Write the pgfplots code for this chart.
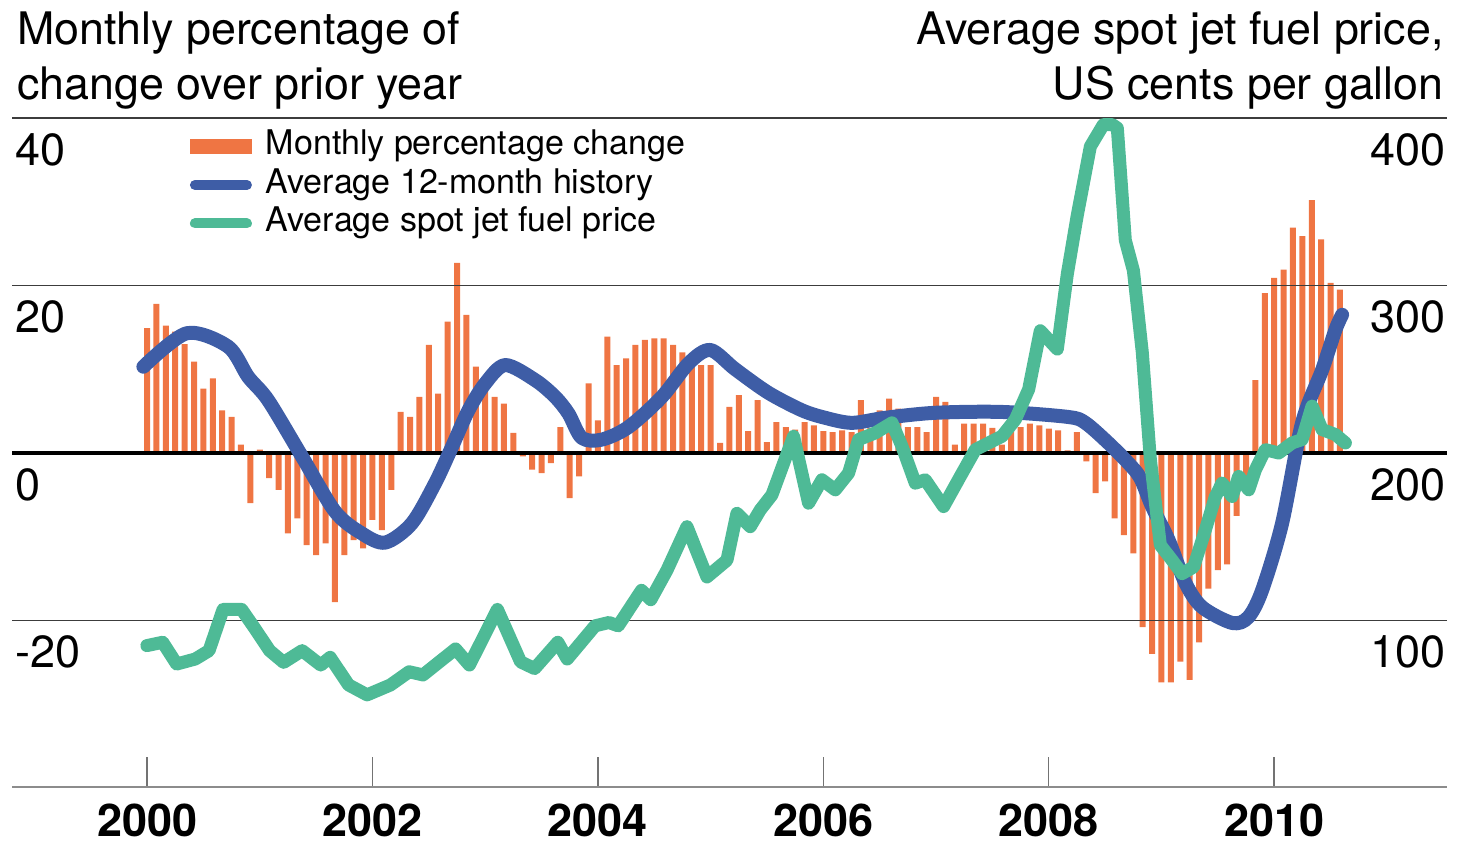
\documentclass[border=0pt]{standalone}
\usepackage{fontspec}
\setmainfont{TeX Gyre Heros}
\usepackage{pgfplots}
\pgfplotsset{compat=1.18}
\usepackage{pgfplotstable}

\definecolor{barorange}{RGB}{239,117,67}
\definecolor{lineblue}{RGB}{62,93,166}
\definecolor{linegreen}{RGB}{78,186,150}
\definecolor{gridc}{RGB}{60,60,60}

% month index: 0 = Jan 2000
\pgfplotstableread{
m v
0 14.9
1 17.8
2 15.2
3 14.5
4 13.0
5 10.9
6 7.7
7 8.9
8 5.1
9 4.3
10 1.0
11 -6.0
12 0.4
13 -3.0
14 -4.4
15 -9.6
16 -7.8
17 -11.0
18 -12.2
19 -10.8
20 -17.8
21 -12.2
22 -10.4
23 -11.4
24 -8.0
25 -9.2
26 -4.4
27 4.9
28 4.3
29 6.7
30 12.9
31 7.1
32 15.7
33 22.7
34 16.5
35 10.3
36 8.5
37 6.7
38 5.9
39 2.4
40 -0.4
41 -2.0
42 -2.4
43 -1.2
44 3.1
45 -5.4
46 -2.8
47 8.3
48 3.9
49 13.9
50 10.5
51 11.3
52 12.9
53 13.5
54 13.7
55 13.7
56 12.9
57 12.0
58 11.5
59 10.5
60 10.5
61 1.2
62 5.5
63 6.9
64 2.6
65 6.3
66 1.3
67 3.7
68 3.1
69 2.8
70 3.7
71 3.3
72 2.6
73 2.5
74 2.7
75 2.5
76 6.3
77 3.0
78 5.1
79 6.5
80 5.3
81 3.1
82 3.1
83 2.5
84 6.7
85 6.1
86 1.0
87 3.5
88 3.5
89 3.5
90 3.0
91 1.0
92 3.0
93 3.1
94 3.5
95 3.3
96 2.9
97 2.7
98 0.3
99 2.5
100 -1.0
101 -4.8
102 -3.4
103 -7.8
104 -9.8
105 -12.0
106 -20.8
107 -24.0
108 -27.4
109 -27.4
110 -24.9
111 -27.1
112 -22.6
113 -16.2
114 -14.0
115 -13.3
116 -7.5
117 -3.5
118 8.7
119 19.1
120 20.9
121 21.9
122 26.9
123 25.9
124 30.2
125 25.5
126 20.3
127 19.5
}\barsdata

\pgfplotstableread{
m v
-0.39 10.3
4.23 14.3
8.63 12.7
10.76 9.1
12.89 6.3
16.48 -0.4
20.02 -7.0
22.86 -9.6
25.35 -10.7
28.19 -8.4
30.67 -3.6
32.45 0.7
34.22 5.1
36.00 8.3
38.13 10.5
41.32 8.7
43.45 6.7
44.87 4.7
46.29 1.8
48.42 1.6
51.26 3.1
54.81 6.7
57.65 10.7
59.96 12.3
62.62 10.0
66.13 7.2
69.72 5.1
72.20 4.2
75.05 3.6
78.59 4.2
83.92 4.8
91.02 4.9
98.08 4.3
99.89 3.6
102.34 1.2
104.47 -1.2
105.75 -3.0
107.00 -6.4
108.76 -10.4
110.54 -15.5
112.32 -18.4
115.55 -20.3
117.25 -19.6
118.71 -16.4
120.84 -8.4
122.97 3.6
125.10 9.9
126.52 14.7
127.23 16.5
}\avgdata

\pgfplotstableread{
m c
-0.02 85
1.66 87
3.15 74
5.13 77
6.60 82
8.09 106.6
10.07 106.6
11.50 95
13.05 82
14.54 75
16.51 82
18.49 73.4
19.49 78
21.46 61.5
23.43 55.6
25.91 61.5
27.90 69.4
29.38 67.5
32.84 83
34.32 73.4
37.30 106.6
39.77 75.3
41.26 71.3
43.73 87
44.73 77
47.69 96.8
49.17 98.8
50.16 96.8
52.64 118
53.63 112.4
55.35 130
57.48 156
59.61 126
61.74 136
62.80 164
64.22 156
65.28 166
66.53 175
68.83 210
70.43 170
71.85 184
73.27 178
74.69 188
75.75 208
77.53 212
79.31 218
80.37 204
81.79 182
82.85 184
84.80 168
86.58 186
88.18 202
91.02 210
92.44 220
93.86 238
95.10 273
96.91 262
97.98 307
99.04 342
100.43 383
101.81 396
102.77 396
103.30 394
104.15 327
105.01 309
105.96 260
106.82 196
107.88 145
109.13 136
110.19 128
111.43 132
112.67 154
113.74 174
114.45 182
115.52 174
116.22 186
117.29 178
118.00 190
119.06 202
120.48 200
121.91 206
122.97 208
124.03 228
125.10 214
126.52 211
127.58 206
}\fueldata

\begin{document}
\begin{tikzpicture}
\path[use as bounding box] (0,0) rectangle (728.5pt,422.5pt);

% titles
\node[anchor=base west, inner sep=0pt, font=\fontsize{22.4}{27}\selectfont] at (8.5pt,400pt) {Monthly percentage of};
\node[anchor=base west, inner sep=0pt, font=\fontsize{22.4}{27}\selectfont] at (8.5pt,372.5pt) {change over prior year};
\node[anchor=base east, inner sep=0pt, font=\fontsize{22.4}{27}\selectfont] at (722pt,400pt) {Average spot jet fuel price,};
\node[anchor=base east, inner sep=0pt, font=\fontsize{22.4}{27}\selectfont] at (722pt,372.5pt) {US cents per gallon};

\begin{axis}[
  at={(6pt,28.5pt)}, anchor=south west,
  scale only axis, width=717.5pt, height=335pt,
  xmin=-14.38, xmax=138.4, ymin=-40, ymax=40,
  axis line style={draw=none},
  xtick={0,24,48,72,96,120},
  xticklabels={2000,2002,2004,2006,2008,2010},
  xtick pos=bottom,
  tick align=inside,
  major tick length=15.5pt,
  xtick style={black!55, line width=0.7pt},
  xticklabel style={anchor=north, inner sep=0pt, yshift=-8pt, font=\fontsize{22.5}{27}\selectfont\bfseries},
  ytick={-20,0,20,40},
  yticklabels={-20,0,20,40},
  ytick style={draw=none},
  yticklabel style={anchor=north west, inner sep=0pt, xshift=1.5pt, yshift=-7.5pt, font=\fontsize{22.5}{27}\selectfont},
  legend style={at={(0.124,0.9806)}, anchor=north west, draw=none, fill=none,
    inner sep=0pt, outer sep=0pt, row sep=3.75pt,
    font=\fontsize{17}{19}\selectfont,
    nodes={inner sep=0pt, text height=12pt, text depth=3.5pt}},
  legend cell align=left,
]
\addplot[ybar, bar width=3pt, fill=barorange, draw=none,
  legend image code/.code={\fill[barorange] (0pt,-3.75pt) rectangle (31pt,3.75pt); \path[draw=none,fill=none] (0pt,0pt) -- (38pt,0pt);}]
  table[x=m,y=v]{\barsdata};
\addlegendentry{Monthly percentage change}

\draw[gridc, line width=0.8pt] (rel axis cs:0,1) -- (rel axis cs:1,1);
\draw[gridc, line width=0.8pt] (rel axis cs:0,0.75) -- (rel axis cs:1,0.75);
\draw[gridc, line width=0.8pt] (rel axis cs:0,0.25) -- (rel axis cs:1,0.25);
\draw[black, line width=2pt] (rel axis cs:0,0.5) -- (rel axis cs:1,0.5);
\draw[black!45, line width=1.5pt] (rel axis cs:0,0) -- (rel axis cs:1,0);

\addplot[lineblue, line width=7pt, smooth, line cap=round, line join=round,
  legend image code/.code={\draw[lineblue, line width=5pt, line cap=round] (2.5pt,0pt) -- (28.5pt,0pt); \path[draw=none,fill=none] (0pt,0pt) -- (38pt,0pt);}]
  table[x=m,y=v]{\avgdata};
\addlegendentry{Average 12-month history}

\addlegendimage{legend image code/.code={\draw[linegreen, line width=5pt, line cap=round] (2.5pt,0pt) -- (28.5pt,0pt); \path[draw=none,fill=none] (0pt,0pt) -- (38pt,0pt);}}
\addlegendentry{Average spot jet fuel price}
\end{axis}

\begin{axis}[
  at={(6pt,28.5pt)}, anchor=south west,
  scale only axis, width=717.5pt, height=335pt,
  xmin=-14.38, xmax=138.4, ymin=0, ymax=400,
  axis line style={draw=none},
  xtick=\empty,
  ytick={100,200,300,400},
  yticklabels={100,200,300,400},
  ytick pos=right, yticklabel pos=right,
  ytick style={draw=none},
  yticklabel style={anchor=north east, inner sep=0pt, xshift=-0.5pt, yshift=-7.5pt, font=\fontsize{22.5}{27}\selectfont},
]
\addplot[linegreen, line width=6.5pt, line cap=round, line join=round]
  table[x=m,y=c]{\fueldata};
\end{axis}
\end{tikzpicture}
\end{document}
